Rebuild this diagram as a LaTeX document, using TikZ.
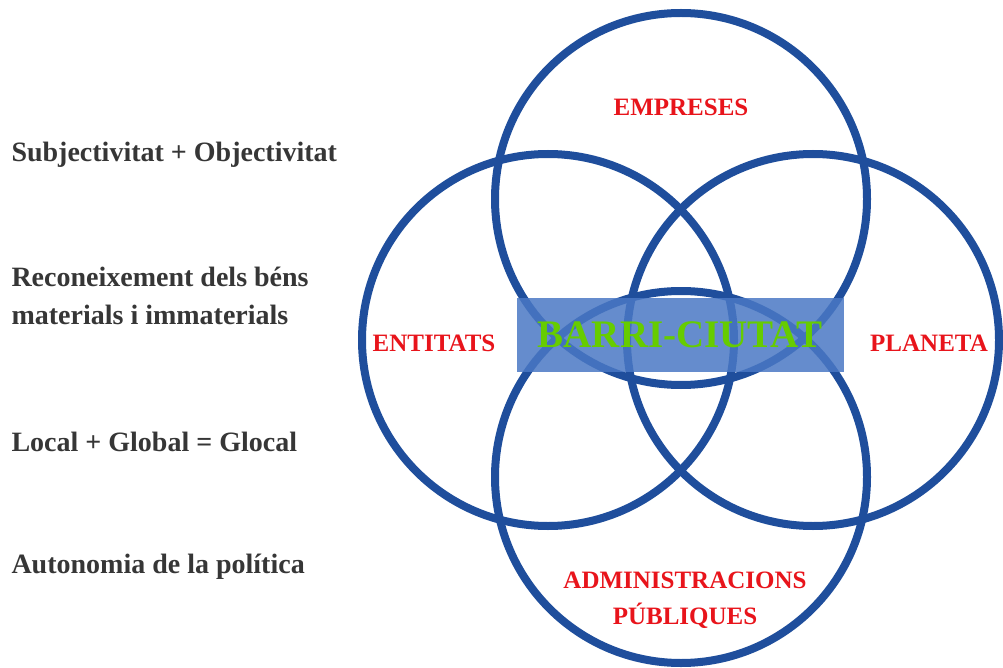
\documentclass[tikz,border=0pt]{standalone}
\usepackage{fontspec}
\setmainfont{Liberation Serif}
\definecolor{ringblue}{HTML}{1F4E9C}
\definecolor{boxblue}{HTML}{4A78C4}
\definecolor{lblred}{HTML}{E8141B}
\definecolor{lblgreen}{HTML}{66CC00}
\definecolor{txtgray}{HTML}{363636}
\begin{document}
\begin{tikzpicture}[x=1pt,y=-1pt,
  ring/.style={circle, draw=ringblue, line width=8pt, minimum size=372pt, inner sep=0pt, outer sep=0pt},
  lbl/.style={text=lblred, font=\fontsize{25}{36}\selectfont\bfseries, align=center},
  side/.style={text=txtgray, font=\fontsize{28}{38}\selectfont\bfseries, anchor=west, align=left}]
\useasboundingbox (0,0) rectangle (1003,668);
\node[ring] (ctop) at (681,199) {};
\node[ring] (cleft) at (548,340) {};
\node[ring] (cright) at (813,340) {};
\node[ring] (cbottom) at (681,477) {};
\node[fill=boxblue, fill opacity=0.85, text opacity=1, minimum width=327pt, minimum height=74pt, inner sep=0pt,
  text=lblgreen, font=\fontsize{39}{44}\selectfont\bfseries] (barri) at (680,335) {BARRI-CIUTAT};
\node[lbl] (empreses) at (681,107) {EMPRESES};
\node[lbl] (entitats) at (434,343) {ENTITATS};
\node[lbl] (planeta) at (929,343) {PLANETA};
\node[lbl] (admin) at (685,600) {ADMINISTRACIONS\\PÚBLIQUES};
\node[side] (t1) at (8,155) {Subjectivitat + Objectivitat};
\node[side] (t2) at (8,296) {Reconeixement dels béns\\materials i immaterials};
\node[side] (t3) at (8,442) {Local + Global = Glocal};
\node[side] (t4) at (8,567) {Autonomia de la política};
\end{tikzpicture}
\end{document}
